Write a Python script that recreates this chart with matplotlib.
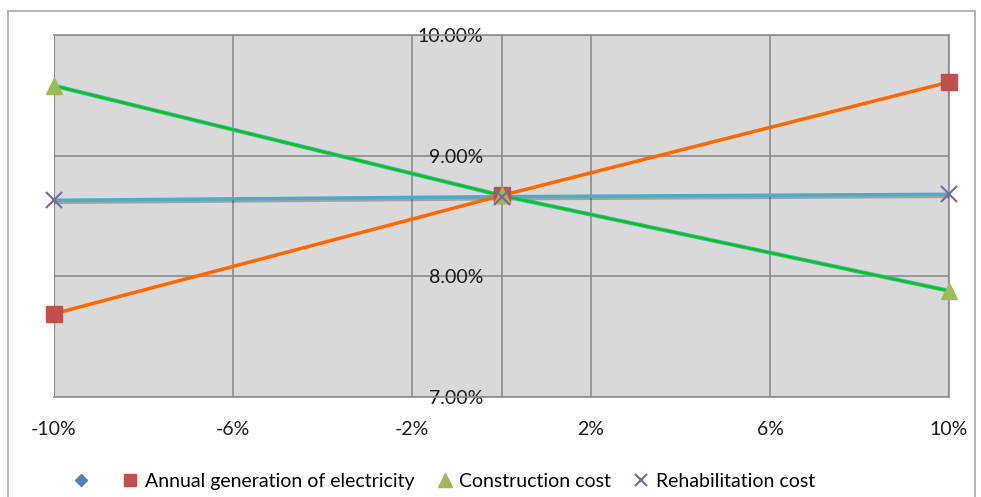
import matplotlib.pyplot as plt
import matplotlib.patheffects as pe
from matplotlib.patches import Rectangle
from matplotlib.ticker import FuncFormatter

plt.rcParams['font.family'] = ['Lato', 'DejaVu Sans']

# sensitivity of the rate to a +/-10% change of each input
change = [-10, 0, 10]
base = [8.67]
annual_generation = [7.69, 8.67, 9.61]
construction_cost = [9.58, 8.67, 7.88]
rehabilitation_cost = [8.63, 8.66, 8.68]

x_ticks = [-10, -6, -2, 2, 6, 10]
y_ticks = [7, 8, 9, 10]

W, H = 981, 497
fig = plt.figure(figsize=(W / 100, H / 100), dpi=100)
fig.patches.append(Rectangle((8 / W, -0.1), 967 / W, 1.1 - 11 / H,
                             transform=fig.transFigure, fill=False,
                             edgecolor='#a6a6a6', lw=1.2))

ax = fig.add_axes([54 / W, 100 / H, 895 / W, 362 / H])
ax.set_facecolor('#d9d9d9')
ax.set_xlim(-10, 10)
ax.set_ylim(7, 10)

grid = '#8c8c8c'
ax.set_xticks(x_ticks)
ax.set_yticks(y_ticks)
ax.grid(True, color=grid, lw=1.2)
ax.set_axisbelow(True)
for side in ['top', 'bottom', 'right', 'left']:
    ax.spines[side].set_color(grid)
    ax.spines[side].set_linewidth(1.2)
ax.spines['left'].set_position(('data', 0))
ax.axvline(-10, color=grid, lw=1.5, zorder=0.5)
ax.axvline(10, color=grid, lw=1.5, zorder=0.5)

ax.xaxis.set_major_formatter(FuncFormatter(lambda v, p: f'{v:.0f}%'))
ax.yaxis.set_major_formatter(FuncFormatter(lambda v, p: f'{v:.2f}%'))
ax.tick_params(axis='x', length=0, pad=17, labelsize=14, colors='#1a1a1a')
ax.tick_params(axis='y', length=0, pad=13, labelsize=14, colors='#1a1a1a')

ax.plot([0], base, marker='D', color='#4f81bd', ms=7, ls='none',
        label=' ', zorder=2)
ax.plot(change, rehabilitation_cost, color='#4bacc6', lw=2.5, zorder=3,
        path_effects=[pe.SimpleLineShadow(offset=(0.5, -1.5), alpha=0.25),
                      pe.Normal()])
ax.plot(change, annual_generation, color='#ff6600', lw=2.5, zorder=4)
ax.plot(change, construction_cost, color='#00cc00', lw=1.6, zorder=5,
        path_effects=[pe.Stroke(linewidth=3, foreground='#4bacc6'),
                      pe.Normal()])

ax.plot(change, annual_generation, marker='s', color='#c0504d', ms=11,
        ls='none', clip_on=False, zorder=6,
        label='Annual generation of electricity')
ax.plot(change, construction_cost, marker='^', color='#9bbb59', ms=12,
        ls='none', clip_on=False, zorder=6, label='Construction cost')
ax.plot(change, rehabilitation_cost, marker='x', color='#8064a2', ms=11,
        mew=1.5, ls='none', clip_on=False, zorder=6,
        label='Rehabilitation cost')

ax.legend(loc='lower center', bbox_to_anchor=(0.435, -0.305), ncol=4,
          frameon=False, fontsize=14, handlelength=0.9, handletextpad=0.3,
          columnspacing=1.1, markerscale=0.85)

fig.savefig('out.png', dpi=100)
